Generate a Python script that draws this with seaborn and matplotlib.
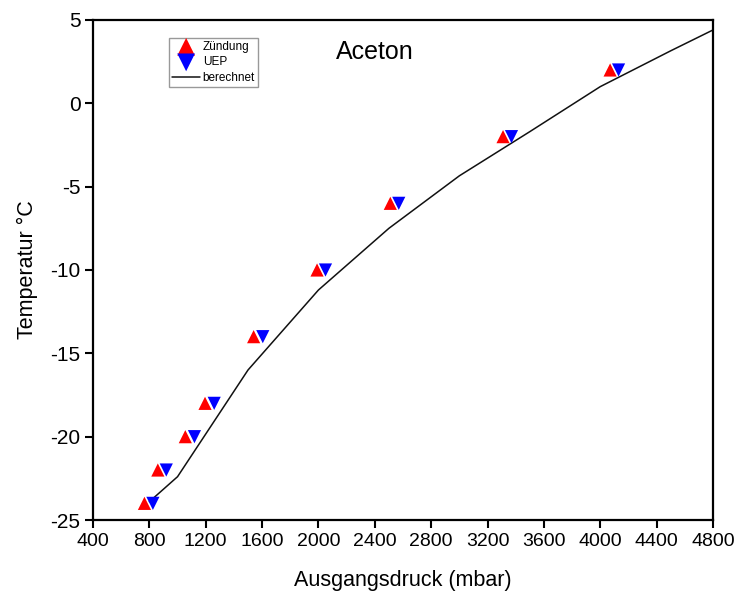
import matplotlib
matplotlib.use("Agg")
import matplotlib.pyplot as plt
import seaborn as sns
import pandas as pd

# Measured ignition points and upper explosion points (UEP), acetone
temperatur = [-24, -22, -20, -18, -14, -10, -6, -2, 2]
druck_zuendung = [765, 860, 1055, 1195, 1540, 1990, 2510, 3310, 4070]
druck_uep = [825, 920, 1120, 1260, 1605, 2050, 2570, 3370, 4130]

# Calculated curve
druck_berechnet = [800, 1000, 1500, 2000, 2500, 3000, 3500, 4000, 4500, 4800]
temp_berechnet = [-23.9, -22.4, -16.0, -11.2, -7.5, -4.35, -1.7, 1.0, 3.15, 4.4]

x_ticks = [400, 800, 1200, 1600, 2000, 2400, 2800, 3200, 3600, 4000, 4400, 4800]
y_ticks = [-25, -20, -15, -10, -5, 0, 5]

df_z = pd.DataFrame({"p": druck_zuendung, "T": temperatur})
df_u = pd.DataFrame({"p": druck_uep, "T": temperatur})
df_b = pd.DataFrame({"p": druck_berechnet, "T": temp_berechnet})

sns.set_style("ticks")
plt.rcParams["font.family"] = ["Liberation Sans", "DejaVu Sans"]
plt.rcParams["axes.unicode_minus"] = False
plt.rcParams["text.color"] = "black"
plt.rcParams["axes.labelcolor"] = "black"

fig = plt.figure(figsize=(7.37, 5.98), dpi=100)
ax = fig.add_axes([0.1262, 0.1304, 0.8412, 0.8362])

sns.lineplot(data=df_b, x="p", y="T", ax=ax, color="#111111", linewidth=1.1,
             label="berechnet", zorder=2)
sns.scatterplot(data=df_z, x="p", y="T", ax=ax, marker="^", s=90, color="#ff0000",
                edgecolor="none", linewidth=0, label="Zündung", zorder=3)
sns.scatterplot(data=df_u, x="p", y="T", ax=ax, marker="v", s=90, color="#0000ff",
                edgecolor="none", linewidth=0, label="UEP", zorder=4)

ax.set_xlim(400, 4800)
ax.set_ylim(-25, 5)
ax.set_xticks(x_ticks)
ax.set_yticks(y_ticks)
ax.tick_params(axis="both", direction="out", length=6, width=1.5,
               colors="black", labelcolor="black", pad=3)
ax.tick_params(axis="x", labelsize=14)
ax.tick_params(axis="y", labelsize=15)
for side in ["left", "right", "top", "bottom"]:
    ax.spines[side].set_visible(True)
    ax.spines[side].set_linewidth(1.6)
    ax.spines[side].set_color("black")

ax.set_xlabel("Ausgangsdruck (mbar)", fontsize=15.5, labelpad=15, color="black")
ax.set_ylabel("Temperatur °C", fontsize=15.5, labelpad=9, color="black")

ax.text(2400, 3.1, "Aceton", fontsize=18, ha="center", va="center", color="black")

handles, labels = ax.get_legend_handles_labels()
order = [labels.index(n) for n in ["Zündung", "UEP", "berechnet"]]
leg = ax.legend([handles[i] for i in order], [labels[i] for i in order],
                loc="upper left", bbox_to_anchor=(0.1226, 0.964), borderaxespad=0,
                fontsize=8.5, frameon=True, fancybox=False, shadow=False,
                handlelength=2.4, handletextpad=0.2, labelspacing=0.3,
                borderpad=0.25, markerscale=1.35)
leg.get_frame().set_edgecolor("#999999")
leg.get_frame().set_linewidth(1.0)
leg.get_frame().set_alpha(1)
for t in leg.get_texts():
    t.set_color("black")

fig.savefig("out.png", dpi=100)
